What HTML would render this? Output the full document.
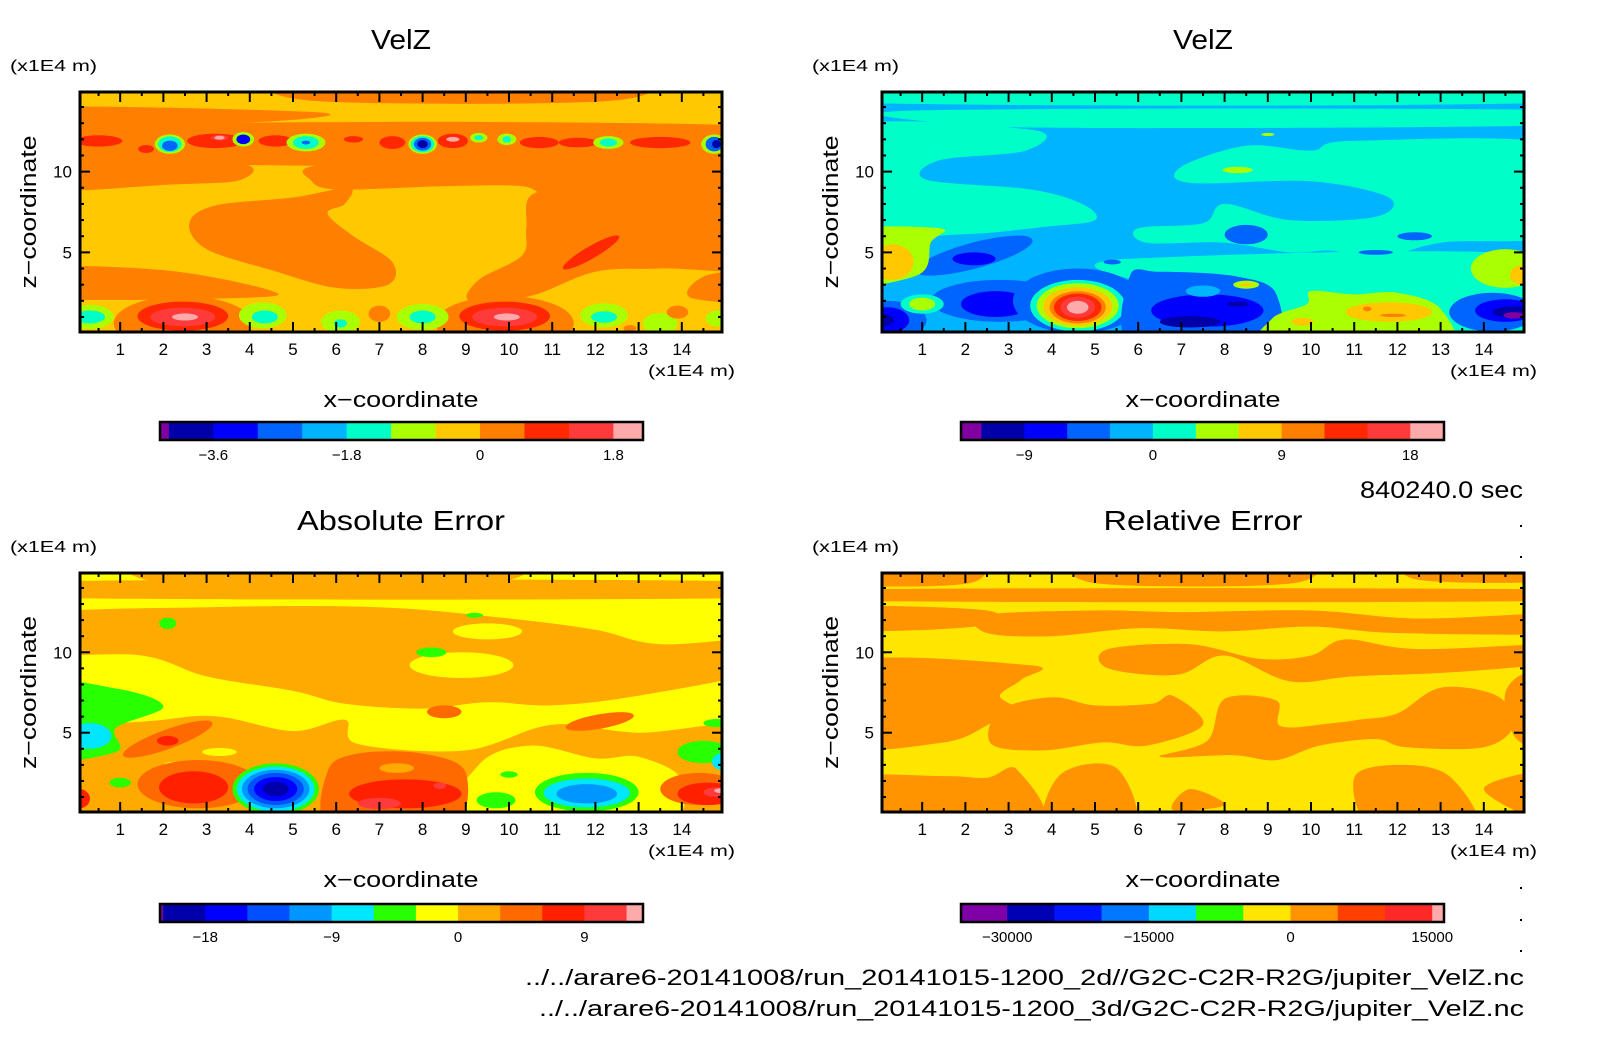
<!DOCTYPE html>
<html><head><meta charset="utf-8">
<style>
html,body{margin:0;padding:0;background:#fff;}
svg{display:block;font-family:"Liberation Sans",sans-serif;}
</style></head>
<body>
<svg id="fig" width="1604" height="1054" viewBox="0 0 1604 1054" xmlns="http://www.w3.org/2000/svg">
<defs>
<clipPath id="clipTL"><rect x="80" y="92" width="642" height="240"/></clipPath>
<clipPath id="clipTR"><rect x="882" y="92" width="642" height="240"/></clipPath>
<clipPath id="clipBL"><rect x="80" y="573" width="642" height="239"/></clipPath>
<clipPath id="clipBR"><rect x="882" y="573" width="642" height="239"/></clipPath>
</defs>
<g id="root"></g>
<text x="1523" y="498" font-size="24" text-anchor="end" textLength="163" lengthAdjust="spacingAndGlyphs">840240.0 sec</text>
<text x="1524" y="985" font-size="22" text-anchor="end" textLength="999" lengthAdjust="spacingAndGlyphs">../../arare6-20141008/run_20141015-1200_2d//G2C-C2R-R2G/jupiter_VelZ.nc</text>
<text x="1524" y="1016" font-size="22" text-anchor="end" textLength="985" lengthAdjust="spacingAndGlyphs">../../arare6-20141008/run_20141015-1200_3d/G2C-C2R-R2G/jupiter_VelZ.nc</text>
<g fill="#000">
<rect x="1520" y="525" width="2" height="2"/><rect x="1520" y="556" width="2" height="2"/>
<rect x="1520" y="856" width="2" height="2"/><rect x="1520" y="887" width="2" height="2"/>
<rect x="1520" y="919" width="2" height="2"/><rect x="1520" y="950" width="2" height="2"/>
</g>
</svg>
<script>
// ---------- palettes ----------
const topPalette = ['#8000a0','#0000a8','#0000ff','#0064ff','#00b4ff','#00ffc8','#aaff00','#ffc800','#ff8000','#ff2800','#ff3a3a','#ffaaaa'];
const absPalette = ['#8000a0','#0000aa','#0000ff','#0050ff','#0096ff','#00e6ff','#28ff00','#ffff00','#ffaa00','#ff6a00','#ff2000','#ff3a3a','#ffaaaa'];
const relPalette = ['#8000a8','#0000b4','#0014ff','#0078ff','#00d8ff','#28ff00','#ffe600','#ff9400','#ff4000','#ff2828','#ffaaaa'];

// ---------- colorbar data ----------
const cbLevelsVelz2d = [-4.32,-4.2,-3.6,-3.0,-2.4,-1.8,-1.2,-0.6,0,0.6,1.2,1.8,2.2];
const cbTicksVelz2d = [-3.6,-1.8,0,1.8];
const cbTickLabelsVelz2d = ['-3.6','-1.8','0','1.8'];
const cbLevelsVelz3d = [-13.43,-12,-9,-6,-3,0,3,6,9,12,15,18,20.36];
const cbTicksVelz3d = [-9,0,9,18];
const cbTickLabelsVelz3d = ['-9','0','9','18'];
const cbLevelsAbs = [-21.22,-21,-18,-15,-12,-9,-6,-3,0,3,6,9,12,13.17];
const cbTicksAbs = [-18,-9,0,9];
const cbTickLabelsAbs = ['-18','-9','0','9'];
const cbLevelsRel = [-34890,-30000,-25000,-20000,-15000,-10000,-5000,0,5000,10000,15000,16250];
const cbTicksRel = [-30000,-15000,0,15000];
const cbTickLabelsRel = ['-30000','-15000','0','15000'];

// ---------- axis tick data ----------
const xTickValues = [1,2,3,4,5,6,7,8,9,10,11,12,13,14];
const zTickValues = [5,10];

// ---------- contour region data (x, z in 1E4 m; last index = level colour) ----------
const velz2dBackground = 7;
const velz2dShapes = [
 ['p',8, -1,14.0, 5.4,13.7, 5.0,13.2, 2,12.9, -1,12.9],
 ['p',8, 5.2,16, 12.6,16, 12.4,14.4, 5.4,14.4],
 ['p',8, -1,12.8, 16,12.8, 16,10.5, -1,10.7],
 ['p',8, -1,11, 3.6,10.6, 3.8,9.5, 2.2,9.2, -1,8.9],
 ['p',8, 5.4,10.3, 7.5,10.9, 10.5,10.9, 13,10.5, 16,10.6, 16,9.2, 12.5,9.0, 11,8.4, 10.3,9.1, 8.5,9.1, 6.0,8.9, 5.4,9.5],
 ['p',8, 2.6,6.8, 3.2,7.9, 5.0,8.4, 6.3,9.0, 6.2,8.0, 5.8,7.4, 6.4,6.0, 7.3,4.4, 7.2,3.0, 6.0,2.8, 4.5,3.9, 3.0,5.2],
 ['p',8, 10.5,8.5, 10.4,6.5, 10.3,4.8, 9.3,3.3, 9.1,2.0, 10.5,2.3, 12,3.8, 13.5,4.0, 16,4.2, 16,8.6, 13,9.2, 11.5,9.0],
 ['p',8, -1,4.0, 2.0,3.9, 4.4,2.7, 4,2.2, -1,2.2],
 ['p',8, 14.2,2.2, 16,2.0, 16,3.7, 14.6,3.6],
 ['e',11.9,5.0,0.75,0.38,9,-30],
 ['e',2.45,0.6,1.6,1.7,8], ['e',9.9,0.6,1.6,1.7,8],
 ['e',2.45,1.05,1.05,0.9,9], ['e',2.45,1.0,0.75,0.58,10], ['e',2.5,1.0,0.3,0.22,11],
 ['e',9.9,1.05,1.05,0.9,9], ['e',9.9,1.0,0.75,0.58,10], ['e',9.95,1.0,0.3,0.22,11],
 ['e',0.3,1.0,0.55,0.75,6],['e',0.3,1.0,0.35,0.4,5],
 ['e',4.3,1.1,0.55,0.8,6],['e',4.35,1.0,0.3,0.4,5],
 ['e',6.1,0.7,0.45,0.7,6],['e',6.1,0.6,0.15,0.25,5],
 ['e',8.0,1.0,0.6,0.8,6],['e',8.0,1.0,0.3,0.4,5],
 ['e',12.2,1.1,0.55,0.75,6],['e',12.2,1.0,0.3,0.35,5],
 ['e',13.5,0.6,0.4,0.65,6], ['e',14.85,0.9,0.3,0.5,6],
 ['e',7.0,1.2,0.25,0.5,8],['e',13.9,1.3,0.25,0.4,8],['e',12.8,0.3,0.15,0.2,8],
 ['e',0.5,11.9,0.55,0.35,9], ['e',1.6,11.4,0.18,0.25,9],
 ['e',2.15,11.7,0.35,0.6,6],['e',2.15,11.7,0.27,0.48,5],['e',2.15,11.6,0.18,0.32,3],
 ['e',3.2,11.9,0.65,0.45,9],['e',3.3,12.1,0.2,0.18,10],['e',3.3,12.1,0.12,0.12,11],
 ['e',3.85,12.0,0.25,0.45,6],['e',3.85,12.0,0.16,0.3,2],
 ['e',4.6,11.9,0.4,0.35,9],
 ['e',5.3,11.8,0.45,0.55,6],['e',5.3,11.8,0.3,0.4,5],['e',5.3,11.8,0.1,0.12,3],
 ['e',6.4,12.0,0.22,0.2,9],['e',7.3,11.8,0.3,0.4,9],
 ['e',8.0,11.7,0.33,0.6,6],['e',8.0,11.7,0.27,0.5,5],['e',8.0,11.7,0.2,0.4,3],['e',8.0,11.7,0.12,0.25,1],
 ['e',8.7,11.9,0.35,0.45,9],['e',8.7,12.0,0.15,0.15,11],
 ['e',9.3,12.1,0.2,0.3,6],['e',9.3,12.1,0.1,0.15,5],
 ['e',9.95,12.0,0.22,0.35,6],['e',9.95,12.0,0.1,0.2,5],
 ['e',10.7,11.8,0.45,0.35,9],['e',11.6,11.8,0.45,0.3,9],
 ['e',12.3,11.8,0.35,0.4,6],['e',12.3,11.8,0.2,0.25,5],
 ['e',13.5,11.8,0.7,0.35,9],
 ['e',14.75,11.7,0.3,0.6,6],['e',14.75,11.7,0.2,0.45,3],['e',14.8,11.7,0.1,0.25,1]
];

const velz3dBackground = 4;
const velz3dShapes = [
 ['p',5, -1,16, 16,16, 16,14.3, -1,14.3],
 ['p',5, 1.1,13.8, 16,13.8, 16,12.9, 5,12.7, 1.5,13.0],
 ['p',5, -1,12.6, 3.5,12.6, 3.4,11.3, 1.4,10.7, 1.1,9.5, 3.5,8.9, 4.7,8, 5,7, 3.9,6.6, 1.8,6.1, -1,6.3],
 ['p',5, 7,10.3, 8.5,11.6, 10,11.3, 11,11.9, 16,11.5, 16,6.3, 13,5.6, 11.5,4.5, 10.5,5.1, 9.5,5, 8,5.6, 6.2,5.6, 6,6.5, 7.5,6.8, 8,8, 9.5,7, 11.5,7.2, 11.8,8.4, 10,9.4, 7.2,9.3],
 ['p',5, 5.8,4.6, 16,4.6, 16,-1, 8.9,-1, 9.1,2.4, 8,3.2, 5.9,3.3],
 ['e',2.2,4.8,1.4,0.8,3,-15],['e',2.2,4.6,0.5,0.4,2],
 ['e',8.5,6.1,0.5,0.6,3],['e',12.4,6.0,0.4,0.25,3],['e',11.5,5.0,0.4,0.15,3],['e',5.4,4.4,0.2,0.15,3],
 ['e',2.8,2.0,1.6,1.3,3],['e',2.7,1.8,0.8,0.8,2],
 ['e',0.2,0.8,0.9,1.2,3],['e',0.2,0.8,0.5,0.8,2],['e',0.05,0.8,0.3,0.4,1],
 ['e',1.0,1.8,0.5,0.6,5],['e',1.0,1.8,0.3,0.4,6],
 ['e',4.6,2.0,1.5,2.0,3],
 ['e',4.6,1.7,1.1,1.6,5],['e',4.6,1.7,0.95,1.4,6],['e',4.6,1.65,0.8,1.2,7],['e',4.6,1.6,0.65,1.0,8],
 ['e',4.6,1.6,0.55,0.85,9],['e',4.6,1.6,0.4,0.65,10],['e',4.6,1.6,0.25,0.4,11],
 ['p',3, 5.8,3.5, 6.5,3.8, 8.3,3.5, 9.2,2.4, 9.0,-1, 5.9,-1],
 ['e',7.6,1.4,1.3,1.0,2],['e',7.2,0.7,0.7,0.35,1],['e',8.3,1.8,0.25,0.15,1],['e',7.5,2.6,0.4,0.35,4],
 ['p',6, 9,-1, 9.1,0.9, 9.9,1.8, 10,2.6, 11,2.4, 12,2.5, 13,1.5, 13,-1],
 ['e',11.8,1.3,1.0,0.6,7],['e',11.3,1.5,0.1,0.15,8],['e',11.9,1.1,0.3,0.1,8],['e',9.8,0.7,0.25,0.25,7],
 ['e',8.5,3.0,0.3,0.25,6],['e',8.5,3.0,0.15,0.1,7],
 ['e',14.2,1.3,1.0,1.2,3],['e',14.5,1.4,0.7,0.7,2],['e',14.7,1.3,0.5,0.35,1],['e',14.7,1.1,0.25,0.2,0],
 ['e',14.5,4.0,0.8,1.2,6],['e',14.9,3.6,0.3,0.6,7],
 ['p',6, -1,3, 0.9,3.6, 1.2,5.6, 1.4,6.5, -1,6.2],
 ['e',0.3,4.4,0.5,1.1,7],
 ['e',8.3,10.1,0.35,0.2,6],['e',9.0,12.3,0.15,0.1,6]
];

const absBackground = 7;
const absShapes = [
 ['p',8, -1,14.4, 16,14.4, 16,13.4, -1,13.4],
 ['p',8, 2.1,16, 9.5,16, 9.5,14.3, 2.1,14.3],
 ['p',8, -1,12.3, 3,12.8, 7,12.8, 10,12.1, 12,11.4, 13.5,10.5, 16,10.8, 16,9, 13,7.3, 11,6.7, 9.5,6.9, 8,6.5, 6.2,6.8, 5,7.6, 3,8.5, 1.5,9.8, -1,10],
 ['e',8.9,9.2,1.2,0.8,7],['e',9.5,11.3,0.8,0.5,7],['e',8.2,10.0,0.35,0.3,6],['e',2.1,11.8,0.2,0.35,6],['e',9.2,12.3,0.2,0.15,6],
 ['p',8, -1,4.5, 2,5.8, 3.3,6.0, 5,5.1, 6.2,5.8, 6.5,4.3, 9,3.9, 11,5.5, 13,5, 16,5.2, 16,-1, -1,-1],
 ['p',7, 8.8,-1, 9.3,3, 10.5,4.2, 12,3.4, 13,3.5, 14,2, 13.4,-1],
 ['e',3.3,3.8,0.4,0.25,7],['e',2.3,3.0,0.3,0.2,7],
 ['p',6, -1,8, 1,7.7, 2,6.6, 0.9,5.3, 0.9,3.8, -1,3.5],
 ['e',0.3,4.8,0.5,0.8,5],
 ['e',1.0,1.9,0.25,0.3,6],['e',8.5,3.2,0.2,0.15,6],['e',10.0,2.4,0.2,0.2,6],['e',9.7,0.8,0.45,0.5,6],
 ['e',2.1,4.6,1.1,0.6,9,-20],['e',2.1,4.5,0.25,0.3,10],
 ['e',8.5,6.3,0.4,0.4,9],['e',12.1,5.7,0.8,0.45,9,-10],
 ['e',2.8,1.8,1.4,1.5,9],['e',2.7,1.6,0.8,1.0,10],['e',0.05,0.9,0.25,0.6,10],
 ['e',4.6,1.5,1.0,1.6,6],['e',4.6,1.5,0.9,1.4,5],['e',4.6,1.5,0.78,1.2,4],['e',4.6,1.5,0.65,1.0,3],['e',4.6,1.5,0.5,0.75,2],['e',4.6,1.5,0.3,0.45,1],
 ['p',9, 5.9,-1, 5.8,2.6, 6.5,3.7, 8,3.7, 9,2.5, 8.6,-1],
 ['e',7.6,1.2,1.3,0.9,10],['e',7.0,0.6,0.5,0.35,11],['e',8.4,1.7,0.15,0.2,11],['e',7.4,2.8,0.4,0.3,8],
 ['e',11.8,1.3,1.2,1.2,6],['e',11.8,1.25,1.0,0.9,5],['e',11.8,1.2,0.7,0.6,4],
 ['e',14.4,1.5,0.9,1.0,9],['e',14.6,1.2,0.7,0.7,10],['e',14.8,1.3,0.3,0.3,11],['e',14.9,1.4,0.15,0.15,12],
 ['e',14.5,3.8,0.6,0.7,6],['e',14.9,3.2,0.2,0.5,5],['e',14.8,5.6,0.3,0.25,6]
];

const relBackground = 6;
const relShapes = [
 ['p',7, -1,16, 2.1,16, 2.1,14.3, -1,14.3],
 ['p',7, 5,16, 9.6,16, 9.6,14.3, 5,14.3],
 ['p',7, 12.5,16, 16,16, 16,14.5, 12.5,14.5],
 ['p',7, -1,13.9, 16,13.9, 16,13.2, -1,13.2],
 ['p',7, -1,12.8, 2.5,12.6, 2.2,11.6, -1,11.4],
 ['p',7, 2.4,12.3, 5,12.6, 7,12.5, 10,12.6, 12.5,12.1, 16,12.4, 16,11.2, 12,11.2, 10,11.6, 8,11.3, 6,11.5, 4,11, 2.5,11.2],
 ['p',7, -1,9.3, 3.5,9.2, 3.3,8.3, 2.8,7.3, 3.2,6.4, 2.6,5.6, 1.5,4.4, -1,4.3],
 ['p',7, 2.8,6.4, 4,7.2, 5,6.7, 6.3,6.8, 6.8,7.3, 7.5,5.5, 6.2,4.2, 5.2,4.4, 3.8,3.9, 2.6,4.3],
 ['p',7, 8,7.1, 9.2,7, 9.3,5.4, 10.5,5.6, 11.1,5.8, 12,6.2, 13,7.8, 14.3,7.3, 14.7,5.5, 14,4.1, 12.2,4.1, 11.5,4.6, 10.2,4.2, 9.2,3.3, 8.2,3.6, 6.5,3.5, 7.6,4.5],
 ['p',7, 5.3,10.2, 7.2,10.5, 8.8,9.6, 10,9.8, 10.8,10.8, 12.5,10.2, 16,10.5, 16,9.5, 13.5,8.8, 11,8.5, 9.5,8.2, 8,9.8, 6.9,8.6, 5.3,9.0],
 ['p',7, -1,-1, -1,2.1, 1.5,2.3, 2.5,2.2, 3.2,2.7, 3.6,-1],
 ['p',7, 3.9,-1, 4.2,2.4, 5.5,2.8, 5.9,-1],
 ['p',7, 6.8,0.2, 7.2,1.5, 8.0,0.5],
 ['p',7, 11,2.2, 11.5,-1, 13.8,-1, 13.2,2.3, 12,3],
 ['p',7, 14,1.5, 16,2.6, 16,-1],
 ['p',7, 15.2,8.5, 14.5,7.5, 14.8,4.5, 16,4]
];

// ---------- helpers ----------
const NS = 'http://www.w3.org/2000/svg';
const root = document.getElementById('root');
function mk(tag, attrs, parent){
  const el = document.createElementNS(NS, tag);
  for (const k in attrs) el.setAttribute(k, attrs[k]);
  (parent||root).appendChild(el);
  return el;
}
function smoothPath(pts){
  const n = pts.length; let d = 'M'+pts[0][0].toFixed(1)+','+pts[0][1].toFixed(1);
  for (let i=0;i<n;i++){
    const p0=pts[(i-1+n)%n], p1=pts[i], p2=pts[(i+1)%n], p3=pts[(i+2)%n];
    const c1x=p1[0]+(p2[0]-p0[0])/6, c1y=p1[1]+(p2[1]-p0[1])/6;
    const c2x=p2[0]-(p3[0]-p1[0])/6, c2y=p2[1]-(p3[1]-p1[1])/6;
    d+=' C'+c1x.toFixed(1)+','+c1y.toFixed(1)+' '+c2x.toFixed(1)+','+c2y.toFixed(1)+' '+p2[0].toFixed(1)+','+p2[1].toFixed(1);
  }
  return d+'Z';
}
const XMIN=0.07, XMAX=14.93, ZMIN=0.07, ZMAX=14.93;

function drawPanel(cfg){
  const g = mk('g', {});
  
  
  const w = cfg.x1-cfg.x0, h = cfg.y1-cfg.y0;
  const xs = v => cfg.x0 + (v-XMIN)/(XMAX-XMIN)*w;
  const zs = v => cfg.y1 - (v-ZMIN)/(ZMAX-ZMIN)*h;
  const field = mk('g', {'clip-path':'url(#'+cfg.clip+')'}, g);
  
  
  const bg = mk('rect', {x:cfg.x0, y:cfg.y0, width:w, height:h, fill:cfg.pal[cfg.bg]}, field);
  
  
  cfg.shapes.forEach(s => {
    let el;
    if (s[0]==='e'){
      const cx=xs(s[1]), cy=zs(s[2]);
      const rx=s[3]/(XMAX-XMIN)*w, ry=s[4]/(ZMAX-ZMIN)*h;
      el = mk('ellipse', {cx:cx, cy:cy, rx:rx, ry:ry, fill:cfg.pal[s[5]]}, field);
      if (s[6]) el.setAttribute('transform', 'rotate('+s[6]+' '+cx+' '+cy+')');
    } else {
      const pts=[]; for (let i=2;i<s.length;i+=2) pts.push([xs(s[i]), zs(s[i+1])]);
      el = mk('path', {d:smoothPath(pts), fill:cfg.pal[s[1]]}, field);
    }
    
    
  });
  // ticks
  const tk = mk('g', {stroke:'#000','stroke-width':2}, g);
  
  
  for (let v=0.5; v<XMAX; v+=0.5){
    if (v<XMIN) continue;
    const L = Number.isInteger(v) ? 10 : 4, x = xs(v);
    mk('line', {x1:x, y1:cfg.y1, x2:x, y2:cfg.y1-L}, tk);
    mk('line', {x1:x, y1:cfg.y0, x2:x, y2:cfg.y0+L}, tk);
  }
  for (let v=1; v<ZMAX; v+=1){
    const L = (v%5===0) ? 10 : 4, y = zs(v);
    mk('line', {x1:cfg.x0, y1:y, x2:cfg.x0+L, y2:y}, tk);
    mk('line', {x1:cfg.x1, y1:y, x2:cfg.x1-L, y2:y}, tk);
  }
  const fr = mk('rect', {x:cfg.x0, y:cfg.y0, width:w, height:h, fill:'none', stroke:'#000','stroke-width':3}, g);
  
  
  // tick labels
  xTickValues.forEach(v => {
    const t = mk('text', {x:xs(v), y:cfg.y1+23, 'font-size':17, 'text-anchor':'middle'}, g);
    t.textContent = String(v);
    
    
  });
  zTickValues.forEach(v => {
    const t = mk('text', {x:cfg.x0-8, y:zs(v)+6, 'font-size':17, 'text-anchor':'end'}, g);
    t.textContent = String(v);
    
    
  });
  const title = mk('text', {x:(cfg.x0+cfg.x1)/2, y:cfg.y0-cfg.titleGap, 'font-size':28, 'text-anchor':'middle', textLength:cfg.titleLen, lengthAdjust:'spacingAndGlyphs'}, g);
  title.textContent = cfg.title;
  
  
  const zu = mk('text', {x:cfg.x0-70, y:cfg.y0-21, 'font-size':16, textLength:87, lengthAdjust:'spacingAndGlyphs'}, g);
  zu.textContent = '(x1E4 m)';
  
  
  const xu = mk('text', {x:cfg.x1+13, y:cfg.y1+44, 'font-size':16, 'text-anchor':'end', textLength:87, lengthAdjust:'spacingAndGlyphs'}, g);
  xu.textContent = '(x1E4 m)';
  
  
  const xt = mk('text', {x:(cfg.x0+cfg.x1)/2, y:cfg.y1+75, 'font-size':22, 'text-anchor':'middle', textLength:155, lengthAdjust:'spacingAndGlyphs'}, g);
  xt.textContent = 'x\u2212coordinate';
  
  
  const zy = (cfg.y0+cfg.y1)/2, zx = cfg.x0-44;
  const zt = mk('text', {x:zx, y:zy, 'font-size':22, 'text-anchor':'middle', transform:'rotate(-90 '+zx+' '+zy+')', textLength:153, lengthAdjust:'spacingAndGlyphs'}, g);
  zt.textContent = 'z\u2212coordinate';
  
  
  // colorbar
  const cb = mk('g', {}, g);
  
  
  const lv = cfg.cbLevels, cx0 = cfg.cbx0, cx1 = cfg.cbx1;
  const cs = v => cx0 + (v-lv[0])/(lv[lv.length-1]-lv[0])*(cx1-cx0);
  for (let i=0;i<lv.length-1;i++){
    const r = mk('rect', {x:cs(lv[i]), y:cfg.cby, width:cs(lv[i+1])-cs(lv[i])+0.3, height:18, fill:cfg.pal[i]}, cb);
    
    
  }
  mk('rect', {x:cx0, y:cfg.cby, width:cx1-cx0, height:18, fill:'none', stroke:'#000','stroke-width':2.5}, cb);
  cfg.cbTicks.forEach((v,i) => {
    const t = mk('text', {x:cs(v), y:cfg.cby+38, 'font-size':15, 'text-anchor':'middle'}, cb);
    t.textContent = cfg.cbLabels[i].replace('-', '\u2212');
    
    
  });
}

drawPanel({name:'panel-velz-2d', clip:'clipTL', x0:80, x1:722, y0:92, y1:332, pal:topPalette, bg:velz2dBackground, shapes:velz2dShapes,
  title:'VelZ', titleLen:60, titleGap:43, cbLevels:cbLevelsVelz2d, cbTicks:cbTicksVelz2d, cbLabels:cbTickLabelsVelz2d, cbx0:160, cbx1:643, cby:422});
drawPanel({name:'panel-velz-3d', clip:'clipTR', x0:882, x1:1524, y0:92, y1:332, pal:topPalette, bg:velz3dBackground, shapes:velz3dShapes,
  title:'VelZ', titleLen:60, titleGap:43, cbLevels:cbLevelsVelz3d, cbTicks:cbTicksVelz3d, cbLabels:cbTickLabelsVelz3d, cbx0:961, cbx1:1444, cby:422});
drawPanel({name:'panel-absolute-error', clip:'clipBL', x0:80, x1:722, y0:573, y1:812, pal:absPalette, bg:absBackground, shapes:absShapes,
  title:'Absolute Error', titleLen:208, titleGap:43, cbLevels:cbLevelsAbs, cbTicks:cbTicksAbs, cbLabels:cbTickLabelsAbs, cbx0:160, cbx1:643, cby:904});
drawPanel({name:'panel-relative-error', clip:'clipBR', x0:882, x1:1524, y0:573, y1:812, pal:relPalette, bg:relBackground, shapes:relShapes,
  title:'Relative Error', titleLen:199, titleGap:43, cbLevels:cbLevelsRel, cbTicks:cbTicksRel, cbLabels:cbTickLabelsRel, cbx0:961, cbx1:1444, cby:904});
</script>
</body></html>
